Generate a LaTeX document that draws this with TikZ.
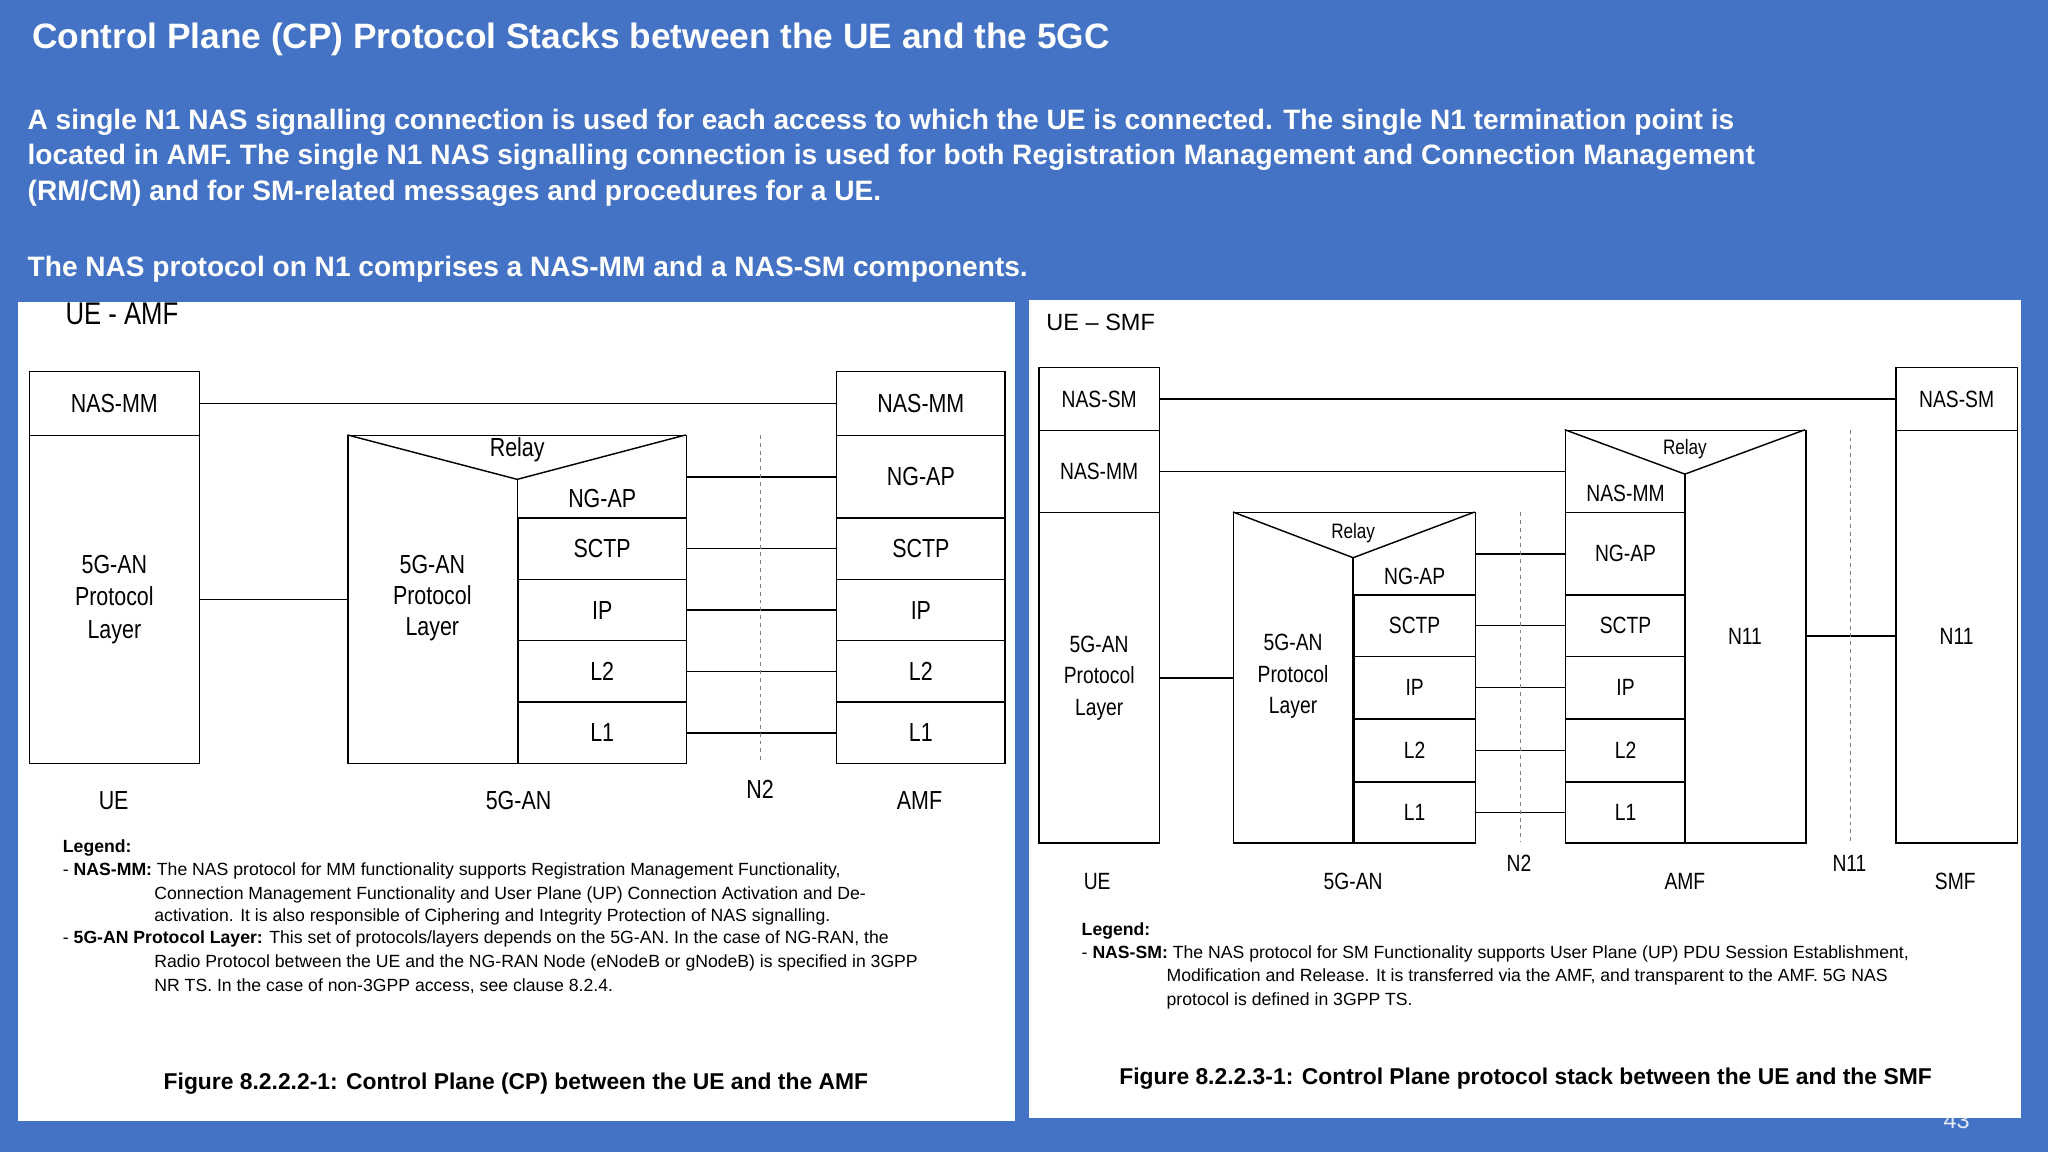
\documentclass[tikz,border=0pt]{standalone}
\usepackage{fontspec}
\setmainfont{Liberation Sans}
\newfontfamily\nf[FakeStretch=0.82]{Liberation Sans}
\definecolor{bgblue}{RGB}{68,114,196}
\newcommand{\stk}[7][]{\node[box,#1,anchor=north west,minimum width={#5pt-#3pt},minimum height={#6pt-#4pt}] (#2) at (#3,#4) {#7};}
\tikzset{
 box/.style={draw,line width=1.1pt,inner sep=0pt,align=center,font=\nf\fontsize{20}{25}\selectfont},
 rbox/.style={box,font=\nf\fontsize{18}{24}\selectfont},
 lab/.style={font=\nf\fontsize{20}{24}\selectfont,align=center},
 rlab/.style={font=\nf\fontsize{18}{24}\selectfont,align=center},
 con/.style={line width=1.1pt},
 dsh/.style={dashed,gray,line width=0.6pt},
 leg/.style={font=\fontsize{13.5}{17.5}\selectfont,anchor=west,inner sep=0pt},
 figcap/.style={font=\bfseries\fontsize{17.5}{20}\selectfont},
}
\begin{document}
\begin{tikzpicture}[x=1pt,y=-1pt]
\fill[bgblue] (0,0) rectangle (1568,882);
\node[anchor=west,text=white,font=\bfseries\fontsize{27}{30}\selectfont] at (21,30) {Control Plane (CP) Protocol Stacks between the UE and the 5GC};
\node[anchor=north west,text=white,font=\bfseries\fontsize{21.5}{27.5}\selectfont,align=left,inner sep=0pt] at (21,83) {A single N1 NAS signalling connection is used for each access to which the UE is connected. The single N1 termination point is\\located in AMF. The single N1 NAS signalling connection is used for both Registration Management and Connection Management\\(RM/CM) and for SM-related messages and procedures for a UE.};
\node[anchor=west,text=white,font=\bfseries\fontsize{21.5}{26}\selectfont,inner sep=0pt] at (21,206) {The NAS protocol on N1 comprises a NAS-MM and a NAS-SM components.};
\node[text=white!85!bgblue,font=\fontsize{18}{20}\selectfont] at (1498,858) {43};
% panels
\fill[white] (14,231) rectangle (777,858);
\fill[white] (788,230) rectangle (1547,856);
% ---------- left diagram
\node[anchor=west,font=\nf\fontsize{24}{26}\selectfont,inner sep=0pt] at (50,240) {UE - AMF};
\stk{ueNAS}{22}{284}{152}{333}{NAS-MM}
\stk{ueAN}{22}{333}{152}{584}{5G-AN\\Protocol\\Layer}
\stk{anOut}{266}{333}{525}{584}{}
\node[lab] (anTxt) at (331,458) {5G-AN\\Protocol\\Layer};
\draw[con] (266,333)--(396,367)--(525,333);
\draw[con] (396,367)--(396,584);
\node[lab] (relayL) at (396,344) {Relay};
\stk[draw=none]{anNG}{396}{367}{525}{396}{NG-AP}
\stk{anSC}{396}{396}{525}{443}{SCTP}
\stk{anIP}{396}{443}{525}{490}{IP}
\stk{anL2}{396}{490}{525}{537}{L2}
\stk{anL1}{396}{537}{525}{584}{L1}
\stk{amNAS}{640}{284}{769}{333}{NAS-MM}
\stk{amNG}{640}{333}{769}{396}{NG-AP}
\stk{amSC}{640}{396}{769}{443}{SCTP}
\stk{amIP}{640}{443}{769}{490}{IP}
\stk{amL2}{640}{490}{769}{537}{L2}
\stk{amL1}{640}{537}{769}{584}{L1}
\draw[con] (ueNAS.east)--(amNAS.west);
\draw[con] (ueAN.east)--(anOut.west);
\foreach \a in {NG,SC,IP,L2,L1}{\draw[con] (am\a.west)--(am\a.west -| anOut.east);}
\coordinate (n2t) at (582,333); \coordinate (n2b) at (582,584);
\draw[dsh] (n2t)--(n2b);
\node[lab] at (87,613) {UE};
\node[lab] at (397,613) {5G-AN};
\node[lab] at (582,604) {N2};
\node[lab] at (704,613) {AMF};
\node[leg,font=\bfseries\fontsize{13.5}{16}\selectfont] at (48,649) {Legend:};
\node[leg] at (48,667) {- \textbf{NAS-MM:} The NAS protocol for MM functionality supports Registration Management Functionality,};
\node[leg] at (118,685) {Connection Management Functionality and User Plane (UP) Connection Activation and De-};
\node[leg] at (118,702) {activation. It is also responsible of Ciphering and Integrity Protection of NAS signalling.};
\node[leg] at (48,719) {- \textbf{5G-AN Protocol Layer:} This set of protocols/layers depends on the 5G-AN. In the case of NG-RAN, the};
\node[leg] at (118,737) {Radio Protocol between the UE and the NG-RAN Node (eNodeB or gNodeB) is specified in 3GPP};
\node[leg] at (118,755) {NR TS. In the case of non-3GPP access, see clause 8.2.4.};
\node[figcap] at (395,830) {Figure 8.2.2.2-1: Control Plane (CP) between the UE and the AMF};
% ---------- right diagram
\node[anchor=west,font=\fontsize{18}{20}\selectfont,inner sep=0pt] at (801,247) {UE -- SMF};
\stk[rbox]{uSM}{795}{281}{887}{329}{NAS-SM}
\stk[rbox]{uMM}{795}{329}{887}{392}{NAS-MM}
\stk[rbox]{uAN}{795}{392}{887}{645}{5G-AN\\Protocol\\Layer}
\stk[rbox]{gOut}{944}{392}{1129}{645}{}
\node[rlab] at (990,518) {5G-AN\\Protocol\\Layer};
\draw[con] (944,392)--(1036,427)--(1129,392);
\draw[con] (1036,427)--(1036,645);
\node[rlab,font=\nf\fontsize{16}{18}\selectfont] at (1036,408) {Relay};
\stk[rbox,draw=none]{gNG}{1036}{427}{1129}{455}{NG-AP}
\stk[rbox]{gSC}{1036}{455}{1129}{502}{SCTP}
\stk[rbox]{gIP}{1036}{502}{1129}{550}{IP}
\stk[rbox]{gL2}{1036}{550}{1129}{598}{L2}
\stk[rbox]{gL1}{1036}{598}{1129}{645}{L1}
\stk[rbox]{aOut}{1198}{329}{1382}{645}{}
\draw[con] (1198,329)--(1290,363)--(1382,329);
\draw[con] (1290,363)--(1290,645);
\node[rlab,font=\nf\fontsize{16}{18}\selectfont] at (1290,344) {Relay};
\stk[rbox,draw=none]{aMM}{1198}{363}{1290}{392}{NAS-MM}
\stk[rbox]{aNG}{1198}{392}{1290}{455}{NG-AP}
\stk[rbox]{aSC}{1198}{455}{1290}{502}{SCTP}
\stk[rbox]{aIP}{1198}{502}{1290}{550}{IP}
\stk[rbox]{aL2}{1198}{550}{1290}{598}{L2}
\stk[rbox]{aL1}{1198}{598}{1290}{645}{L1}
\node[rlab] (aN11) at (1336,487) {N11};
\stk[rbox]{sSM}{1451}{281}{1544}{329}{NAS-SM}
\stk[rbox]{sN11}{1451}{329}{1544}{645}{N11}
\draw[con] (uSM.east)--(sSM.west);
\draw[con] (uMM.east)--(uMM.east -| aOut.west);
\draw[con] (uAN.east)--(gOut.west);
\draw[con] (1129,424)--(aNG.west |- 1129,424);
\foreach \a in {SC,IP,L2,L1}{\draw[con] (a\a.west)--(a\a.west -| gOut.east);}
\draw[con] (sN11.west |- aN11)--(aOut.east |- aN11);
\coordinate (r2t) at (1164,392); \coordinate (r2b) at (1164,645);
\draw[dsh] (r2t)--(r2b);
\coordinate (r11t) at (1417,329); \coordinate (r11b) at (1417,645);
\draw[dsh] (r11t)--(r11b);
\node[rlab] at (840,675) {UE};
\node[rlab] at (1036,675) {5G-AN};
\node[rlab] at (1163,661) {N2};
\node[rlab] at (1290,675) {AMF};
\node[rlab] at (1416,661) {N11};
\node[rlab] at (1497,675) {SMF};
\node[leg,font=\bfseries\fontsize{13.5}{16}\selectfont] at (828,713) {Legend:};
\node[leg] at (828,730) {- \textbf{NAS-SM:} The NAS protocol for SM Functionality supports User Plane (UP) PDU Session Establishment,};
\node[leg] at (893,748) {Modification and Release. It is transferred via the AMF, and transparent to the AMF. 5G NAS};
\node[leg] at (893,766) {protocol is defined in 3GPP TS.};
\node[figcap] at (1168,826) {Figure 8.2.2.3-1: Control Plane protocol stack between the UE and the SMF};
\end{tikzpicture}
\end{document}
